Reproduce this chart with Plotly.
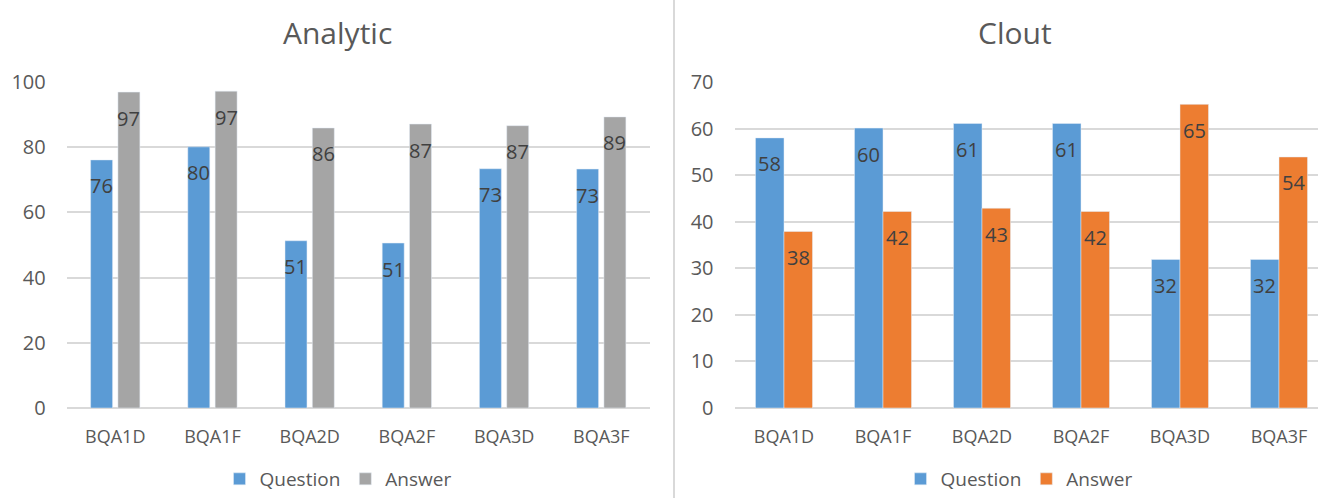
import plotly.graph_objects as go

categories = ["BQA1D", "BQA1F", "BQA2D", "BQA2F", "BQA3D", "BQA3F"]
analytic_question = [76.1, 80.1, 51.3, 50.6, 73.4, 73.3]
analytic_answer = [96.9, 97.2, 85.9, 87.1, 86.6, 89.3]
clout_question = [58.0, 60.1, 61.1, 61.1, 31.9, 31.9]
clout_answer = [37.9, 42.2, 42.9, 42.2, 65.2, 53.9]

W, H = 1318, 498
BLUE, GRAY, ORANGE = "#5B9BD5", "#A5A5A5", "#ED7D31"
TXT, LBL, GRID = "#595959", "#404040", "#D9D9D9"
FONT = "Open Sans"

# bar geometry (category units)
L_W, L_OFF_Q, L_OFF_A = 0.226, -0.254, 0.027
R_W, R_OFF_Q, R_OFF_A = 0.288, -0.288, 0.0

fig = go.Figure()
fig.add_trace(go.Bar(x=categories, y=analytic_question, name="Question", marker_color=BLUE,
                     width=L_W, offset=L_OFF_Q, xaxis="x", yaxis="y", legend="legend"))
fig.add_trace(go.Bar(x=categories, y=analytic_answer, name="Answer", marker_color=GRAY,
                     width=L_W, offset=L_OFF_A, xaxis="x", yaxis="y", legend="legend"))
fig.add_trace(go.Bar(x=categories, y=clout_question, name="Question", marker_color=BLUE,
                     width=R_W, offset=R_OFF_Q, xaxis="x2", yaxis="y2", legend="legend2"))
fig.add_trace(go.Bar(x=categories, y=clout_answer, name="Answer", marker_color=ORANGE,
                     width=R_W, offset=R_OFF_A, xaxis="x2", yaxis="y2", legend="legend2"))

annotations = []
def add_labels(vals, off, w, xref, yref):
    for i, v in enumerate(vals):
        annotations.append(dict(x=i + off + w / 2, y=v, xref=xref, yref=yref,
                                text=str(int(round(v))), showarrow=False,
                                yanchor="middle", yshift=-26,
                                font=dict(family=FONT, size=20, color=LBL)))

add_labels(analytic_question, L_OFF_Q, L_W, "x", "y")
add_labels(analytic_answer, L_OFF_A, L_W, "x", "y")
add_labels(clout_question, R_OFF_Q, R_W, "x2", "y2")
add_labels(clout_answer, R_OFF_A, R_W, "x2", "y2")

annotations.append(dict(x=337 / W, y=1 - 32 / H, xref="paper", yref="paper", text="Analytic",
                        showarrow=False, xanchor="center", yanchor="middle",
                        font=dict(family=FONT, size=30, color=TXT)))
annotations.append(dict(x=1015 / W, y=1 - 32 / H, xref="paper", yref="paper", text="Clout",
                        showarrow=False, xanchor="center", yanchor="middle",
                        font=dict(family=FONT, size=30, color=TXT)))

ydom = [(H - 408) / H, (H - 82) / H]
r_start = 734.5
xcommon = dict(showgrid=False, showline=False, zeroline=False, ticks="outside", ticklen=12,
               tickcolor="rgba(0,0,0,0)", tickfont=dict(family=FONT, size=18, color=TXT),
               fixedrange=True)
ycommon = dict(showgrid=True, gridcolor=GRID, gridwidth=1.5, zeroline=True, zerolinecolor=GRID,
               zerolinewidth=1.5, showline=False, ticks="outside", ticklen=16,
               tickcolor="rgba(0,0,0,0)", tickfont=dict(family=FONT, size=20, color=TXT),
               domain=ydom, fixedrange=True)

legend_common = dict(orientation="h", y=0, yref="container", xref="container",
                     xanchor="center", yanchor="bottom",
                     font=dict(family=FONT, size=19, color=TXT), bgcolor="rgba(0,0,0,0)")

fig.update_layout(
    width=W, height=H, margin=dict(l=0, r=0, t=0, b=0, autoexpand=False),
    paper_bgcolor="white", plot_bgcolor="white",
    barmode="group",
    xaxis=dict(**xcommon, domain=[66.7 / W, 649.9 / W], range=[-0.5, 5.5], anchor="y"),
    yaxis=dict(**ycommon, range=[0, 100], dtick=20, anchor="x"),
    xaxis2=dict(**xcommon, domain=[r_start / W, 1.0], range=[-0.5, -0.5 + (W - r_start) / 99.0], anchor="y2"),
    yaxis2=dict(**ycommon, range=[0, 70], dtick=10, anchor="x2"),
    legend=dict(**legend_common, x=338 / W),
    legend2=dict(**legend_common, x=1019 / W),
    annotations=annotations,
    shapes=[dict(type="line", xref="paper", yref="paper", x0=674 / W, x1=674 / W, y0=0, y1=1,
                 line=dict(color=GRID, width=2))],
)

fig.write_html("out.html")
